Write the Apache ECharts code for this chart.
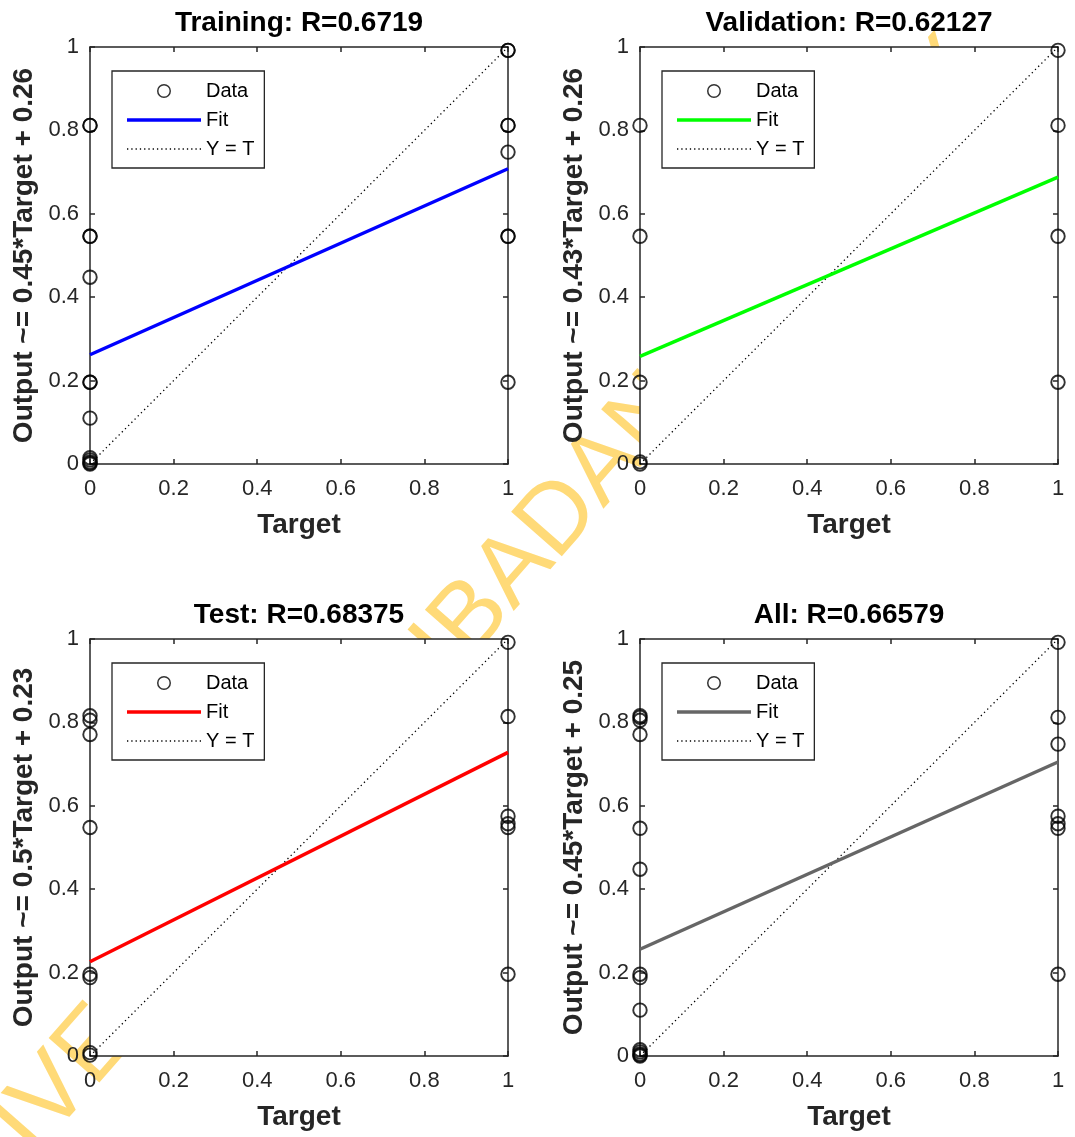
<!DOCTYPE html>
<html>
<head>
<meta charset="utf-8">
<script src="https://cdn.jsdelivr.net/npm/echarts@6/dist/echarts.min.js"></script>
<style>
html,body{margin:0;padding:0;background:#fff;}
#wrap{position:relative;width:1075px;height:1137px;overflow:hidden;background:#fff;}
#wm{position:absolute;left:-86px;top:1193px;height:98px;line-height:98px;white-space:nowrap;
    font-family:'Liberation Sans',Arial,sans-serif;font-size:98px;color:#ffda78;
    transform-origin:0 50%;transform:rotate(-48.7deg);z-index:0;}
#chart{position:absolute;left:0;top:0;width:1075px;height:1137px;z-index:1;}
</style>
</head>
<body>
<div id="wrap">
<div id="wm"></div>
<div id="chart"></div>
</div>
<script>
// ---------- data ----------
const panelTitles = ['Training: R=0.6719', 'Validation: R=0.62127', 'Test: R=0.68375', 'All: R=0.66579'];
const yAxisNames = ['Output ~= 0.45*Target + 0.26', 'Output ~= 0.43*Target + 0.26', 'Output ~= 0.5*Target + 0.23', 'Output ~= 0.45*Target + 0.25'];
const xAxisName = 'Target';
const legendNames = ['Data', 'Fit', 'Y = T'];
const fitColors = ['#0000ff', '#00ff00', '#ff0000', '#666666'];
const tickLabels = ['0', '0.2', '0.4', '0.6', '0.8', '1'];

const trainTarget = [0,0,0,0,0,0,0,0,0,0,0,0,0, 1,1,1,1,1,1,1,1];
const trainOutput = [0.812,0.812,0.546,0.546,0.448,0.196,0.196,0.110,0.015,0.010,0.005,0.002,0.000,
                     0.992,0.992,0.812,0.812,0.748,0.546,0.546,0.196];
const valTarget = [0,0,0,0,0, 1,1,1,1];
const valOutput = [0.812,0.546,0.196,0.005,0.000, 0.992,0.812,0.546,0.196];
const testTarget = [0,0,0,0,0,0,0,0, 1,1,1,1,1,1];
const testOutput = [0.816,0.805,0.771,0.548,0.196,0.188,0.008,0.002, 0.992,0.814,0.575,0.557,0.548,0.196];
const allTarget = [0,0,0,0,0,0,0,0,0,0,0,0,0,0, 1,1,1,1,1,1,1];
const allOutput = [0.816,0.812,0.805,0.771,0.546,0.448,0.196,0.188,0.110,0.015,0.010,0.005,0.002,0.000,
                   0.992,0.812,0.748,0.575,0.557,0.546,0.196];

const fitTargets = [0, 1];
const trainFit = [0.262, 0.708];
const valFit = [0.258, 0.688];
const testFit = [0.226, 0.728];
const allFit = [0.256, 0.705];
const identityTargets = [0, 1];
const identityOutputs = [0, 1];

const watermarkText = 'UNIVERSITY OF IBADAN LIBRARY';
document.getElementById('wm').textContent = watermarkText;

// ---------- build options ----------
const targets = [trainTarget, valTarget, testTarget, allTarget];
const outputs = [trainOutput, valOutput, testOutput, allOutput];
const fits = [trainFit, valFit, testFit, allFit];

const gridPos = [
  {left: 90, top: 47}, {left: 640, top: 47},
  {left: 90, top: 639}, {left: 640, top: 639}
];
const W = 418, H = 417;
const axisColor = '#262626';
const font = 'Liberation Sans, Arial, Helvetica, sans-serif';

// legend icons
const ringIcon = 'path://M7,0 A7,7 0 1 1 6.99,0 Z M7,1.5 A5.5,5.5 0 1 0 7.01,1.5 Z';
const fitIcon = 'path://M0,0 h74 v3.5 h-74 Z';
let dots = '';
for (let k = 0; k < 18; k++) dots += 'M' + (k * 4) + ',0 h1.2 v1.2 h-1.2 Z ';
const dotIcon = 'path://' + dots;

const grids = [], xAxes = [], yAxes = [], series = [], legends = [], titles = [];

for (let g = 0; g < 4; g++) {
  const p = gridPos[g];
  grids.push({left: p.left, top: p.top, width: W, height: H, show: true, backgroundColor: '#ffffff', borderWidth: 0, containLabel: false});
  titles.push({
    text: panelTitles[g], left: p.left + W / 2, top: p.top - 38, textAlign: 'center', padding: 0,
    textStyle: {fontFamily: font, fontSize: 28, fontWeight: 'bold', color: '#000'}
  });
  const common = {
    gridIndex: g, type: 'value', min: 0, max: 1, interval: 0.2,
    splitLine: {show: false},
    axisLine: {show: true, onZero: false, lineStyle: {color: axisColor, width: 1.5}},
    axisTick: {show: true, inside: true, length: 5, lineStyle: {color: axisColor, width: 1.5}}
  };
  xAxes.push(Object.assign({}, common, {
    position: 'bottom',
    name: xAxisName, nameLocation: 'middle', nameGap: 47,
    nameTextStyle: {fontFamily: font, fontSize: 28, fontWeight: 'bold', color: axisColor},
    axisLabel: {show: true, margin: 14, fontFamily: font, fontSize: 22, color: axisColor,
      formatter: (v) => tickLabels[Math.round(v / 0.2)]}
  }));
  xAxes.push(Object.assign({}, common, {position: 'top', axisLabel: {show: false}}));
  yAxes.push(Object.assign({}, common, {
    position: 'left',
    name: yAxisNames[g], nameLocation: 'middle', nameGap: 52, nameRotate: 90,
    nameTextStyle: {fontFamily: font, fontSize: 28, fontWeight: 'bold', color: axisColor},
    axisLabel: {show: true, margin: 11, fontFamily: font, fontSize: 22, color: axisColor,
      formatter: (v) => tickLabels[Math.round(v / 0.2)]}
  }));
  yAxes.push(Object.assign({}, common, {position: 'right', axisLabel: {show: false}}));

  const xi = 2 * g, yi = 2 * g;
  const sfx = '_' + g;
  series.push({
    type: 'line', name: legendNames[2] + sfx, xAxisIndex: xi, yAxisIndex: yi,
    data: identityTargets.map((t, i) => [t, identityOutputs[i]]),
    symbol: 'none', clip: false, z: 1,
    itemStyle: {color: '#000'},
    lineStyle: {color: '#000', width: 1.3, type: [1.3, 3.2]}
  });
  series.push({
    type: 'line', name: legendNames[1] + sfx, xAxisIndex: xi, yAxisIndex: yi,
    data: fitTargets.map((t, i) => [t, fits[g][i]]),
    symbol: 'none', clip: false, z: 2,
    itemStyle: {color: fitColors[g]},
    lineStyle: {color: fitColors[g], width: 3.5}
  });
  series.push({
    type: 'scatter', name: legendNames[0] + sfx, xAxisIndex: xi, yAxisIndex: yi,
    data: targets[g].map((t, i) => [t, outputs[g][i]]),
    symbol: 'circle', symbolSize: 13.5, clip: false, z: 3,
    itemStyle: {color: 'rgba(0,0,0,0)', borderColor: '#000', borderWidth: 1.9}
  });
  legends.push({
    orient: 'vertical', left: p.left + 22, top: p.top + 24,
    data: [
      {name: legendNames[0] + sfx, icon: ringIcon, itemStyle: {color: '#000', borderWidth: 0}},
      {name: legendNames[1] + sfx, icon: fitIcon, itemStyle: {color: fitColors[g], borderWidth: 0}},
      {name: legendNames[2] + sfx, icon: dotIcon, itemStyle: {color: '#000', borderWidth: 0}}
    ],
    formatter: n => n.replace(/_\d$/, ''),
    itemWidth: 74, itemHeight: 14, itemGap: 9,
    padding: [10, 10, 9, 15],
    borderColor: axisColor, borderWidth: 1.3, backgroundColor: '#fff',
    selectedMode: false,
    textStyle: {fontFamily: font, fontSize: 20, color: '#000'}
  });
}

const option = {
  backgroundColor: 'transparent',
  animation: false,
  title: titles,
  grid: grids,
  xAxis: xAxes,
  yAxis: yAxes,
  legend: legends,
  series: series
};

const chart = echarts.init(document.getElementById('chart'), null, {renderer: 'canvas'});
chart.setOption(option);
</script>
</body>
</html>
